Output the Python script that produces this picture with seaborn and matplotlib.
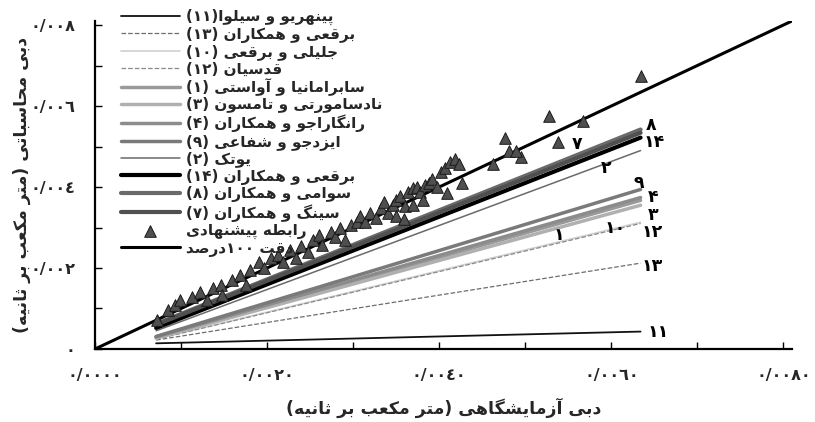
import re
import matplotlib
matplotlib.use("Agg")
import matplotlib.pyplot as plt
import seaborn as sns
import pandas as pd

# ---------------- data ----------------
x_span = [0.00071, 0.00634]

line_labels = [
    "پینهریو و سیلوا(۱۱)",
    "برقعی و همکاران (۱۳)",
    "جلیلی و برقعی (۱۰)",
    "قدسیان (۱۲)",
    "سابرامانیا و آواستی (۱)",
    "نادسامورتی و تامسون (۳)",
    "رانگاراجو و همکاران (۴)",
    "ایزدجو و شفاعی (۹)",
    "یوتک (۲)",
    "برقعی و همکاران (۱۴)",
    "سوامی و همکاران (۸)",
    "سینگ و همکاران (۷)",
]
line_tags = ["۱۱", "۱۳", "۱۰", "۱۲", "۱", "۳", "۴", "۹", "۲", "۱۴", "۸", "۷"]
y_start = [0.00014, 0.00022, 0.00025, 0.00024, 0.00028, 0.00027, 0.00030, 0.00031,
           0.00045, 0.00052, 0.00062, 0.00060]
y_end = [0.00043, 0.00212, 0.00313, 0.00310, 0.00367, 0.00355, 0.00374, 0.00394,
         0.00490, 0.00522, 0.00542, 0.00534]

scatter_label = "رابطه پیشنهادی"
obs_x = [0.00072, 0.00085, 0.00093, 0.00099, 0.00113, 0.00122, 0.00130, 0.00137, 0.00146,
         0.00148, 0.00159, 0.00169, 0.00175, 0.00180, 0.00190, 0.00196, 0.00204, 0.00213,
         0.00219, 0.00227, 0.00234, 0.00239, 0.00247, 0.00253, 0.00260, 0.00264, 0.00274,
         0.00279, 0.00285, 0.00291, 0.00297, 0.00304, 0.00308, 0.00314, 0.00320, 0.00326,
         0.00332, 0.00336, 0.00341, 0.00346, 0.00350, 0.00355, 0.00360, 0.00364, 0.00369,
         0.00374, 0.00378, 0.00383, 0.00388, 0.00392, 0.00397, 0.00402, 0.00407, 0.00413,
         0.00418, 0.00423, 0.00409, 0.00381, 0.00369, 0.00350, 0.00359, 0.00427, 0.00462,
         0.00477, 0.00481, 0.00495, 0.00538, 0.00527, 0.00567, 0.00634, 0.00489]
obs_y = [0.00071, 0.00096, 0.00108, 0.00121, 0.00128, 0.00140, 0.00121, 0.00150, 0.00158,
         0.00133, 0.00170, 0.00182, 0.00158, 0.00195, 0.00214, 0.00200, 0.00224, 0.00232,
         0.00214, 0.00244, 0.00224, 0.00254, 0.00239, 0.00268, 0.00281, 0.00256, 0.00288,
         0.00276, 0.00298, 0.00268, 0.00305, 0.00313, 0.00328, 0.00313, 0.00337, 0.00323,
         0.00347, 0.00362, 0.00337, 0.00355, 0.00367, 0.00377, 0.00352, 0.00387, 0.00397,
         0.00401, 0.00387, 0.00404, 0.00411, 0.00421, 0.00401, 0.00436, 0.00446, 0.00461,
         0.00470, 0.00456, 0.00384, 0.00367, 0.00355, 0.00328, 0.00320, 0.00409, 0.00458,
         0.00522, 0.00490, 0.00473, 0.00512, 0.00576, 0.00564, 0.00675, 0.00490]

ideal_label = "دقت ۱۰۰درصد"
ideal_x = [0.0, 0.0081]
ideal_y = [0.0, 0.0081]

x_ticks = [0.0, 0.002, 0.004, 0.006, 0.008]
x_tick_labels = ["۰/۰۰۰۰", "۰/۰۰۲۰", "۰/۰۰٤۰", "۰/۰۰٦۰", "۰/۰۰۸۰"]
y_ticks = [0.0, 0.002, 0.004, 0.006, 0.008]
y_tick_labels = ["۰", "۰/۰۰۲", "۰/۰۰٤", "۰/۰۰٦", "۰/۰۰۸"]
x_title = "دبی آزمایشگاهی (متر مکعب بر ثانیه)"
y_title = "دبی محاسباتی (متر مکعب بر ثانیه)"

# ---------------- styles ----------------
line_colors = ["#111111", "#6e6e6e", "#cfcfcf", "#8a8a8a", "#9a9a9a", "#b0b0b0",
               "#8c8c8c", "#7a7a7a", "#6a6a6a", "#000000", "#6a6a6a", "#505050"]
line_widths = [1.3, 0.9, 1.2, 0.9, 2.5, 2.5, 2.5, 2.5, 1.1, 3.0, 3.0, 3.0]
line_styles = ["-", "--", "-", "--", "-", "-", "-", "-", "-", "-", "-", "-"]
tag_pos = [(0.00654, 0.00042), (0.00648, 0.00204), (0.00605, 0.00298), (0.00648, 0.00290),
           (0.00539, 0.00281), (0.00648, 0.00331), (0.00648, 0.00376), (0.00632, 0.00410),
           (0.00594, 0.00446), (0.00650, 0.00510), (0.00646, 0.00552), (0.00560, 0.00507)]

# ------------- minimal Persian shaping (visual order) -------------
FORMS = {
    '\u0622': ('\uFE81', '\uFE82', None, None),
    '\u0627': ('\uFE8D', '\uFE8E', None, None),
    '\u0628': ('\uFE8F', '\uFE90', '\uFE91', '\uFE92'),
    '\u067E': ('\uFB56', '\uFB57', '\uFB58', '\uFB59'),
    '\u062A': ('\uFE95', '\uFE96', '\uFE97', '\uFE98'),
    '\u062B': ('\uFE99', '\uFE9A', '\uFE9B', '\uFE9C'),
    '\u062C': ('\uFE9D', '\uFE9E', '\uFE9F', '\uFEA0'),
    '\u0686': ('\uFB7A', '\uFB7B', '\uFB7C', '\uFB7D'),
    '\u062D': ('\uFEA1', '\uFEA2', '\uFEA3', '\uFEA4'),
    '\u062E': ('\uFEA5', '\uFEA6', '\uFEA7', '\uFEA8'),
    '\u062F': ('\uFEA9', '\uFEAA', None, None),
    '\u0630': ('\uFEAB', '\uFEAC', None, None),
    '\u0631': ('\uFEAD', '\uFEAE', None, None),
    '\u0632': ('\uFEAF', '\uFEB0', None, None),
    '\u0698': ('\uFB8A', '\uFB8B', None, None),
    '\u0633': ('\uFEB1', '\uFEB2', '\uFEB3', '\uFEB4'),
    '\u0634': ('\uFEB5', '\uFEB6', '\uFEB7', '\uFEB8'),
    '\u0635': ('\uFEB9', '\uFEBA', '\uFEBB', '\uFEBC'),
    '\u0636': ('\uFEBD', '\uFEBE', '\uFEBF', '\uFEC0'),
    '\u0637': ('\uFEC1', '\uFEC2', '\uFEC3', '\uFEC4'),
    '\u0638': ('\uFEC5', '\uFEC6', '\uFEC7', '\uFEC8'),
    '\u0639': ('\uFEC9', '\uFECA', '\uFECB', '\uFECC'),
    '\u063A': ('\uFECD', '\uFECE', '\uFECF', '\uFED0'),
    '\u0641': ('\uFED1', '\uFED2', '\uFED3', '\uFED4'),
    '\u0642': ('\uFED5', '\uFED6', '\uFED7', '\uFED8'),
    '\u06A9': ('\uFB8E', '\uFB8F', '\uFB90', '\uFB91'),
    '\u06AF': ('\uFB92', '\uFB93', '\uFB94', '\uFB95'),
    '\u0644': ('\uFEDD', '\uFEDE', '\uFEDF', '\uFEE0'),
    '\u0645': ('\uFEE1', '\uFEE2', '\uFEE3', '\uFEE4'),
    '\u0646': ('\uFEE5', '\uFEE6', '\uFEE7', '\uFEE8'),
    '\u0648': ('\uFEED', '\uFEEE', None, None),
    '\u0647': ('\uFEE9', '\uFEEA', '\uFEEB', '\uFEEC'),
    '\u06CC': ('\uFBFC', '\uFBFD', '\uFBFE', '\uFBFF'),
}


def shape(text):
    text = text.replace('\u064A', '\u06CC').replace('\u0643', '\u06A9')
    out = []
    n = len(text)
    for i, c in enumerate(text):
        if c not in FORMS:
            if c != '\u200c':
                out.append(c)
            continue
        iso, fin, ini, med = FORMS[c]
        prev_j = i > 0 and text[i - 1] in FORMS and FORMS[text[i - 1]][2] is not None
        next_j = ini is not None and i + 1 < n and text[i + 1] in FORMS
        if prev_j and next_j:
            out.append(med)
        elif prev_j:
            out.append(fin)
        elif next_j:
            out.append(ini)
        else:
            out.append(iso)
    return ''.join(out)


def fa(text):
    rev = shape(text)[::-1]
    rev = rev.translate(str.maketrans({'(': ')', ')': '('}))
    return re.sub(r'[0-9\u06F0-\u06F9\u0660-\u0669/.]+', lambda m: m.group(0)[::-1], rev)


# ---------------- plotting ----------------
sns.set_style("ticks")
plt.rcParams['font.family'] = ['DejaVu Sans']

fig = plt.figure(figsize=(8.15, 4.22), dpi=100)
ax = fig.add_axes([0.1166, 0.1730, 0.8552, 0.7773])

handles = []
for i in range(len(line_labels)):
    df = pd.DataFrame({"x": x_span, "y": [y_start[i], y_end[i]]})
    sns.lineplot(data=df, x="x", y="y", ax=ax, color=line_colors[i], lw=line_widths[i],
                 linestyle=line_styles[i], legend=False, zorder=2 + i * 0.01)
    handles.append(ax.lines[-1])

df_ideal = pd.DataFrame({"x": ideal_x, "y": ideal_y})
sns.lineplot(data=df_ideal, x="x", y="y", ax=ax, color="black", lw=2.2, legend=False, zorder=3)
ideal_handle = ax.lines[-1]

df_obs = pd.DataFrame({"x": obs_x, "y": obs_y})
sns.scatterplot(data=df_obs, x="x", y="y", ax=ax, marker="^", s=70, color="#4f4f4f",
                edgecolor="#1a1a1a", linewidth=0.7, zorder=4, legend=False)
scatter_handle = ax.collections[-1]

for tag, (tx, ty) in zip(line_tags, tag_pos):
    ax.text(tx, ty, tag, fontsize=12.5, fontweight="bold", ha="center", va="center", color="black")

ax.set_xlim(0, 0.0081)
ax.set_ylim(0, 0.0081)
ax.set_xticks(x_ticks)
ax.set_xticklabels(x_tick_labels, fontsize=11.5, fontweight="bold")
ax.set_yticks(y_ticks)
ax.set_yticklabels(y_tick_labels, fontsize=11.5, fontweight="bold")
ax.set_xticks([0.001, 0.003, 0.005, 0.007], minor=True)
ax.set_yticks([0.001, 0.003, 0.005, 0.007], minor=True)
ax.tick_params(axis="both", which="both", direction="in", length=5, width=1, color="black")
ax.tick_params(axis="x", which="major", pad=14)
ax.tick_params(axis="y", which="major", pad=14)
for s in ["top", "right"]:
    ax.spines[s].set_visible(False)
for s in ["left", "bottom"]:
    ax.spines[s].set_linewidth(1.6)
    ax.spines[s].set_color("black")

ax.set_xlabel(fa(x_title), fontsize=12.5, fontweight="bold")
ax.set_ylabel(fa(y_title), fontsize=12.5, fontweight="bold")
ax.xaxis.set_label_coords(0.5, -0.18)
ax.yaxis.set_label_coords(-0.105, 0.5)
ax.yaxis.label.set_va("center")
ax.xaxis.label.set_va("center")

leg = ax.legend(handles + [scatter_handle, ideal_handle],
                [fa(l) for l in line_labels] + [fa(scatter_label), fa(ideal_label)],
                loc="upper left", bbox_to_anchor=(0.148, 0.979), bbox_transform=fig.transFigure,
                frameon=False, labelspacing=0.1, handlelength=3.9,
                handletextpad=0.4, borderpad=0, borderaxespad=0,
                prop={"weight": "bold", "size": 11})

fig.savefig("out.png", dpi=100)
